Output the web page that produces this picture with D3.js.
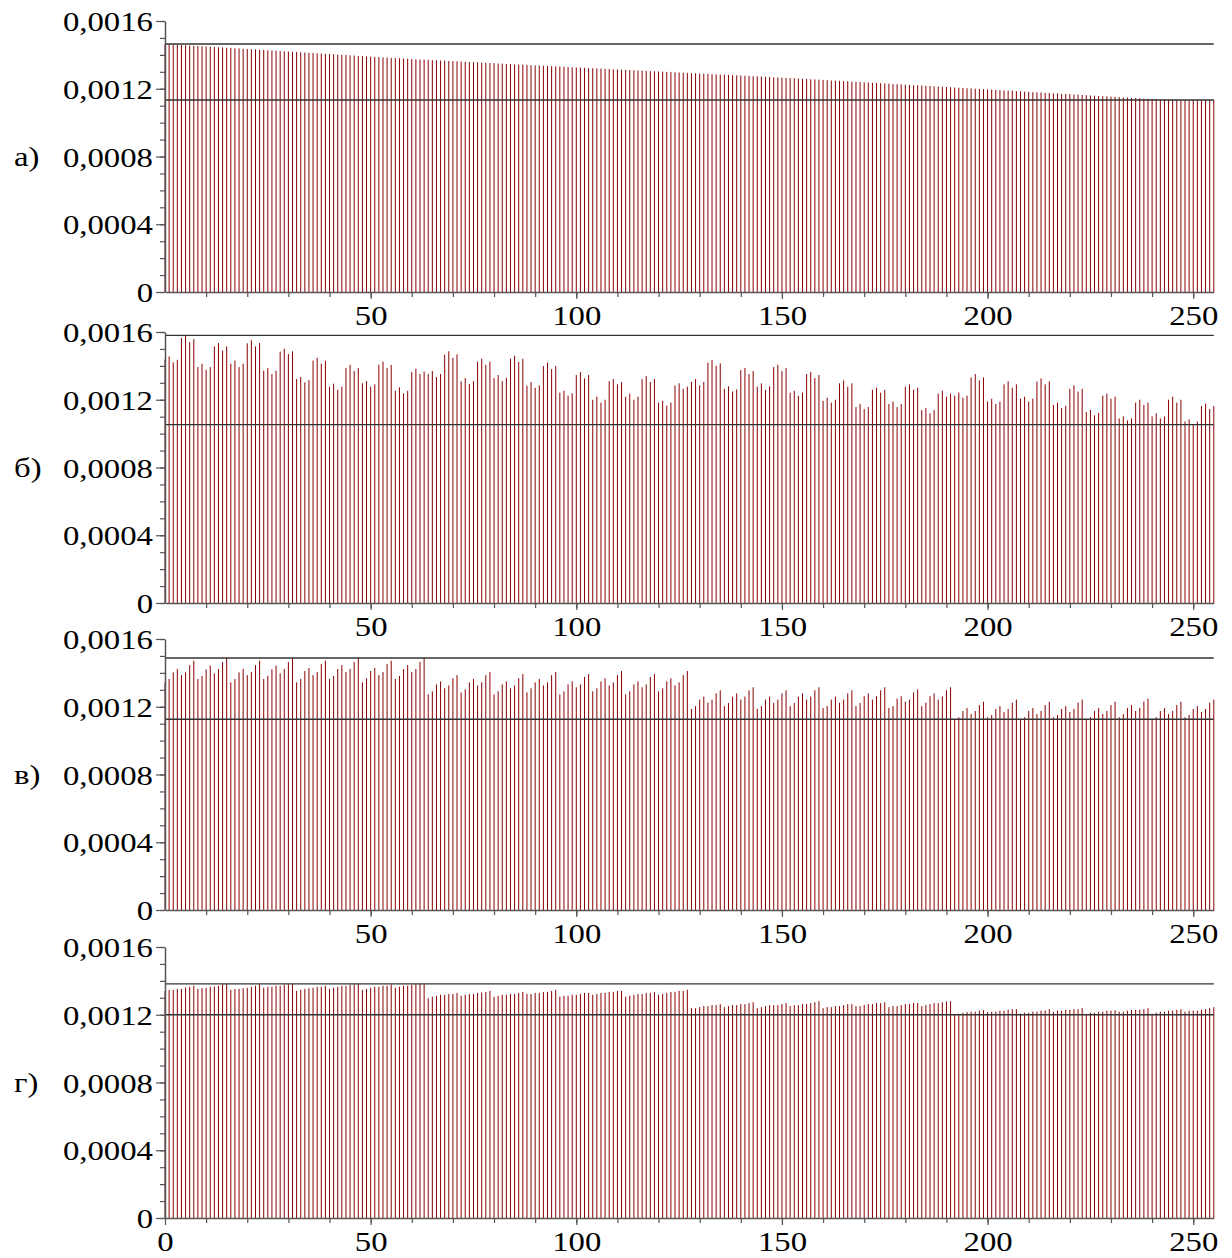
<!DOCTYPE html>
<html>
<head>
<meta charset="utf-8">
<script src="https://cdn.jsdelivr.net/npm/d3@7"></script>
<style>
  body { margin: 0; background: #fff; }
  text { font-family: "Liberation Serif", "Times New Roman", serif; font-size: 28px; fill: #000; }
</style>
</head>
<body>
<div id="chart"></div>
<script>
// all values in units of 1e-4
const seriesA = [
  14.64,14.62,14.61,14.60,14.58,14.57,14.55,14.54, 14.52,14.51,14.50,14.48,14.47,14.45,14.44,14.42,
  14.41,14.39,14.38,14.36,14.35,14.33,14.32,14.30, 14.29,14.27,14.26,14.24,14.23,14.21,14.20,14.18,
  14.17,14.15,14.14,14.12,14.11,14.09,14.08,14.06, 14.05,14.03,14.02,14.00,13.99,13.97,13.96,13.94,
  13.93,13.91,13.90,13.88,13.87,13.85,13.84,13.82, 13.81,13.80,13.78,13.77,13.76,13.74,13.73,13.72,
  13.71,13.69,13.68,13.67,13.66,13.64,13.63,13.62, 13.61,13.59,13.58,13.57,13.56,13.54,13.53,13.52,
  13.51,13.49,13.48,13.47,13.46,13.44,13.43,13.42, 13.41,13.39,13.38,13.37,13.36,13.34,13.33,13.32,
  13.31,13.30,13.28,13.27,13.26,13.25,13.24,13.22, 13.21,13.20,13.19,13.18,13.16,13.15,13.14,13.13,
  13.12,13.10,13.09,13.08,13.07,13.06,13.04,13.03, 13.02,13.01,13.00,12.98,12.97,12.96,12.95,12.94,
  12.92,12.91,12.90,12.89,12.88,12.86,12.85,12.84, 12.83,12.82,12.80,12.79,12.78,12.77,12.76,12.74,
  12.73,12.72,12.71,12.70,12.68,12.67,12.66,12.64, 12.63,12.62,12.60,12.59,12.58,12.56,12.55,12.54,
  12.52,12.51,12.49,12.48,12.47,12.45,12.44,12.42, 12.41,12.40,12.38,12.37,12.35,12.34,12.33,12.31,
  12.30,12.28,12.27,12.26,12.24,12.23,12.21,12.20, 12.19,12.17,12.16,12.14,12.13,12.12,12.10,12.09,
  12.07,12.06,12.05,12.03,12.02,12.00,11.99,11.98, 11.96,11.95,11.93,11.92,11.90,11.89,11.88,11.86,
  11.85,11.83,11.82,11.80,11.79,11.78,11.76,11.75, 11.73,11.72,11.70,11.69,11.68,11.66,11.65,11.63,
  11.62,11.60,11.59,11.58,11.56,11.55,11.53,11.52, 11.51,11.49,11.48,11.46,11.45,11.44,11.42,11.41,
  11.40,11.39,11.38,11.37,11.36,11.35,11.35,11.34, 11.34,11.34,11.34,11.34,11.34,11.34,11.34,11.34
];
const seriesB = [
  14.38,14.56,14.21,14.36,15.64,15.80,15.41,15.58,13.93,14.13,13.77,13.93,15.15,15.35,14.90,15.15,
  14.13,14.31,13.93,14.13,15.33,15.51,15.15,15.35,13.72,13.87,13.52,13.72,14.84,15.01,14.70,14.86,
  13.22,13.34,13.03,13.16,14.31,14.48,14.13,14.31,12.77,12.95,12.59,12.77,13.87,14.07,13.70,13.87,
  12.97,13.10,12.77,12.91,14.07,14.25,13.87,14.05,12.53,12.73,12.38,12.53,13.64,13.83,13.52,13.66,
  13.52,13.70,13.34,13.52,14.66,14.86,14.48,14.68,13.09,13.28,12.93,13.10,14.25,14.42,14.07,14.25,
  13.28,13.46,13.10,13.30,14.42,14.60,14.23,14.42,12.83,13.05,12.71,12.85,13.99,14.19,13.81,13.99,
  12.42,12.53,12.24,12.38,13.46,13.64,13.26,13.46,12.00,12.18,11.83,12.00,13.09,13.22,12.91,13.05,
  12.18,12.36,12.00,12.18,13.22,13.40,13.05,13.22,11.83,11.94,11.65,11.83,12.85,12.97,12.65,12.77,
  13.05,13.22,12.85,13.05,14.19,14.36,14.01,14.15,12.65,12.79,12.49,12.61,13.75,13.87,13.52,13.70,
  12.77,12.97,12.59,12.79,13.93,14.07,13.70,13.87,12.42,12.53,12.24,12.42,13.52,13.64,13.28,13.46,
  11.94,12.12,11.83,12.00,12.97,13.14,12.77,12.97,11.57,11.75,11.45,11.57,12.59,12.71,12.42,12.59,
  11.75,11.89,11.57,11.75,12.77,12.91,12.59,12.71,11.39,11.51,11.20,11.39,12.36,12.53,12.18,12.36,
  12.24,12.42,12.12,12.24,13.32,13.52,13.14,13.32,11.89,12.06,11.75,11.89,12.91,13.09,12.71,12.91,
  12.06,12.18,11.89,12.06,13.09,13.26,12.91,13.09,11.69,11.83,11.51,11.65,12.65,12.85,12.48,12.65,
  11.27,11.39,11.08,11.22,12.24,12.36,12.06,12.18,10.90,11.02,10.78,10.90,11.83,12.00,11.69,11.83,
  11.02,11.20,10.90,11.02,12.00,12.18,11.83,12.00,10.72,10.84,10.53,10.72,11.63,11.77,11.45,11.63
];
const seriesC = [
  13.44,13.64,14.03,14.23,13.87,14.03,14.46,14.72,13.64,13.82,14.21,14.43,13.97,14.23,14.64,14.88,
  13.44,13.64,14.03,14.23,13.87,14.05,14.46,14.72,13.64,13.82,14.21,14.43,13.97,14.23,14.64,14.88,
  13.44,13.64,14.11,14.29,13.87,14.05,14.52,14.72,13.64,13.82,14.23,14.46,14.05,14.23,14.64,14.88,
  13.44,13.68,14.11,14.29,13.87,14.05,14.52,14.72,13.64,13.82,14.23,14.46,14.05,14.23,14.64,14.88,
  12.73,12.91,13.32,13.50,13.09,13.26,13.68,13.87,12.85,13.03,13.44,13.64,13.26,13.44,13.87,14.05,
  12.73,12.91,13.32,13.50,13.09,13.26,13.68,13.93,12.85,13.09,13.44,13.64,13.26,13.44,13.87,14.05,
  12.73,12.91,13.32,13.50,13.15,13.32,13.76,13.93,12.91,13.09,13.50,13.68,13.26,13.44,13.87,14.11,
  12.73,12.91,13.32,13.50,13.15,13.32,13.76,13.93,12.91,13.09,13.50,13.68,13.26,13.44,13.87,14.11,
  11.87,12.04,12.42,12.60,12.24,12.42,12.79,12.97,12.04,12.22,12.60,12.79,12.42,12.60,12.97,13.15,
  11.87,12.04,12.42,12.60,12.24,12.42,12.79,12.97,12.04,12.22,12.60,12.79,12.42,12.60,12.97,13.15,
  11.93,12.04,12.42,12.60,12.24,12.42,12.79,12.97,12.04,12.22,12.62,12.79,12.42,12.62,12.97,13.15,
  11.93,12.04,12.48,12.62,12.30,12.42,12.85,13.03,12.04,12.24,12.62,12.79,12.42,12.62,12.97,13.15,
  11.26,11.38,11.75,11.93,11.57,11.75,12.10,12.30,11.38,11.51,11.87,12.04,11.69,11.87,12.24,12.42,
  11.26,11.38,11.75,11.93,11.57,11.75,12.10,12.30,11.38,11.51,11.87,12.04,11.69,11.87,12.24,12.42,
  11.26,11.38,11.75,11.93,11.57,11.75,12.10,12.30,11.38,11.57,11.93,12.10,11.75,11.93,12.30,12.48,
  11.26,11.38,11.75,11.93,11.57,11.75,12.10,12.30,11.38,11.51,11.87,12.04,11.69,11.87,12.24,12.42
];
const seriesD = [
  13.41,13.47,13.47,13.53,13.53,13.61,13.65,13.71, 13.53,13.57,13.59,13.65,13.67,13.71,13.80,13.82,
  13.47,13.51,13.53,13.57,13.59,13.65,13.71,13.80, 13.59,13.65,13.65,13.71,13.71,13.78,13.80,13.82,
  13.41,13.47,13.53,13.57,13.59,13.65,13.65,13.71, 13.53,13.59,13.65,13.71,13.71,13.78,13.80,13.82,
  13.47,13.53,13.59,13.65,13.65,13.71,13.72,13.78, 13.59,13.65,13.71,13.72,13.78,13.80,13.82,13.82,
  12.98,13.06,13.12,13.18,13.18,13.23,13.23,13.29, 13.12,13.18,13.23,13.23,13.29,13.31,13.35,13.41,
  13.06,13.12,13.18,13.18,13.23,13.23,13.29,13.35, 13.23,13.23,13.29,13.29,13.35,13.35,13.41,13.47,
  13.06,13.12,13.12,13.18,13.18,13.23,13.29,13.29, 13.18,13.23,13.29,13.29,13.35,13.35,13.41,13.41,
  13.06,13.12,13.18,13.23,13.23,13.29,13.29,13.35, 13.18,13.23,13.29,13.35,13.35,13.41,13.41,13.47,
  12.39,12.39,12.45,12.51,12.51,12.57,12.57,12.63, 12.45,12.51,12.57,12.57,12.63,12.63,12.69,12.74,
  12.39,12.45,12.51,12.57,12.57,12.57,12.63,12.69, 12.51,12.57,12.57,12.63,12.63,12.69,12.74,12.80,
  12.39,12.45,12.45,12.51,12.51,12.57,12.63,12.63, 12.51,12.51,12.57,12.63,12.63,12.69,12.69,12.74,
  12.45,12.51,12.51,12.57,12.63,12.63,12.69,12.69, 12.51,12.57,12.63,12.69,12.69,12.74,12.78,12.80,
  12.00,12.06,12.12,12.16,12.18,12.18,12.24,12.27, 12.16,12.18,12.18,12.24,12.24,12.29,12.33,12.33,
  12.06,12.12,12.12,12.18,12.18,12.24,12.25,12.33, 12.18,12.24,12.24,12.29,12.29,12.33,12.33,12.39,
  12.00,12.12,12.12,12.18,12.18,12.24,12.24,12.27, 12.18,12.18,12.24,12.29,12.29,12.29,12.33,12.39,
  12.06,12.12,12.18,12.18,12.24,12.24,12.29,12.33, 12.18,12.24,12.24,12.24,12.29,12.33,12.39,12.45
];
const panelLabels = ["а)", "б)", "в)", "г)"];
const yTicks = [0, 4, 8, 12, 16];
const xTicks = [50, 100, 150, 200, 250];
const xTicksLast = [0, 50, 100, 150, 200, 250];

const width = 1232, height = 1258;
const left = 165, right = 1213.8;
const panelTop = [21, 332, 639, 947], panelH = 271;
const stretch = 1.17; // glyphs in the picture are wider than tall

let svg = d3.select("#chart")
  .append("svg")
  .attr("width", width)
  .attr("height", height);

svg.append("rect").attr("width", width).attr("height", height).attr("fill", "#fff");

let x = d3.scaleLinear().domain([0, 255]).range([left, right]);

const fmt = v => v === 0 ? "0" : "0," + String(v).padStart(4, "0");

[seriesA, seriesB, seriesC, seriesD].forEach(function (vals, i) {
  let top = panelTop[i];
  let y = d3.scaleLinear().domain([0, 16]).range([top + panelH, top]);
  let g = svg.append("g");

  // stems
  g.selectAll("line.bar")
    .data(vals)
    .join("line")
    .attr("class", "bar")
    .attr("x1", (d, k) => x(k))
    .attr("x2", (d, k) => x(k))
    .attr("y1", y(0))
    .attr("y2", d => y(d))
    .attr("stroke", "#8b0000")
    .attr("stroke-width", 1);

  // max / min reference lines
  g.selectAll("line.ref")
    .data([d3.max(vals), d3.min(vals)])
    .join("line")
    .attr("class", "ref")
    .attr("x1", left)
    .attr("x2", right)
    .attr("y1", d => y(d))
    .attr("y2", d => y(d))
    .attr("stroke", "#333")
    .attr("stroke-width", 1.4);

  // minor ticks
  g.append("g")
    .attr("transform", "translate(" + left + ",0)")
    .call(d3.axisLeft(y).tickValues(d3.range(0, 17)).tickSize(5).tickSizeOuter(0).tickFormat(""))
    .call(a => a.select(".domain").remove());
  g.append("g")
    .attr("transform", "translate(0," + y(0) + ")")
    .call(d3.axisBottom(x).tickValues(d3.range(10, 256, 10)).tickSize(5).tickSizeOuter(0).tickFormat(""))
    .call(a => a.select(".domain").remove());

  let yAxis = g.append("g")
    .attr("transform", "translate(" + left + ",0)")
    .call(d3.axisLeft(y).tickValues(yTicks).tickSize(9).tickSizeOuter(0).tickPadding(3).tickFormat(fmt));
  yAxis.selectAll("text")
    .attr("x", -12 / stretch)
    .attr("dy", "0.34em")
    .attr("transform", "scale(" + stretch + ",1)");

  let xAxis = g.append("g")
    .attr("transform", "translate(0," + y(0) + ")")
    .call(d3.axisBottom(x).tickValues(i === 3 ? xTicksLast : xTicks).tickSize(7).tickSizeOuter(0));
  xAxis.selectAll("text")
    .attr("y", 13)
    .attr("transform", "scale(" + stretch + ",1)");

  [yAxis, xAxis].forEach(a => {
    a.attr("font-family", null).attr("font-size", null);
    a.select(".domain").attr("stroke", "#555").attr("stroke-width", 1.5);
    a.selectAll(".tick line").attr("stroke", "#555").attr("stroke-width", 1.2);
  });
  g.selectAll(".tick line").attr("stroke", "#555").attr("stroke-width", 1.2);

  g.append("text")
    .attr("transform", "translate(14," + (y(8) + 9) + ") scale(" + stretch + ",1)")
    .text(panelLabels[i]);
});
</script>
</body>
</html>
